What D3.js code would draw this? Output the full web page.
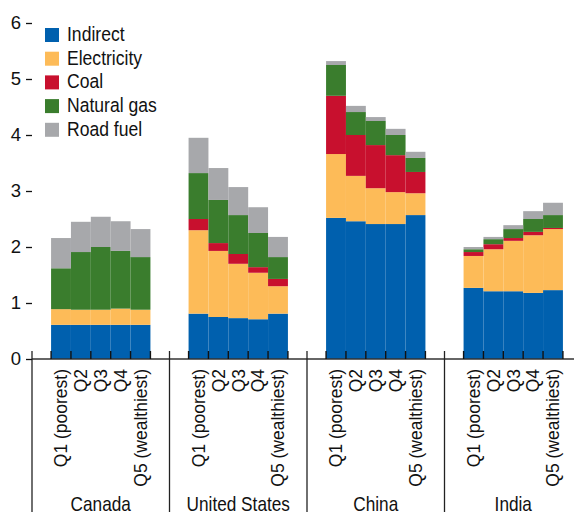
<!DOCTYPE html>
<html>
<head>
<meta charset="utf-8">
<script src="https://cdn.jsdelivr.net/npm/d3@7/dist/d3.min.js"></script>
<style>
  html, body { margin: 0; padding: 0; background: #fff; }
  svg { display: block; }
  text { font-family: "Liberation Sans", Arial, sans-serif; fill: #111; }
</style>
</head>
<body>
<svg id="chart" width="574" height="512"></svg>
<script>
// ---- data ----
const countries = ["Canada", "United States", "China", "India"];
const quintiles = ["Q1 (poorest)", "Q2", "Q3", "Q4", "Q5 (wealthiest)"];
const seriesNames = ["Indirect", "Electricity", "Coal", "Natural gas", "Road fuel"];
const seriesColors = ["#0060ae", "#fdbb58", "#c8102e", "#3a7d2d", "#a7a8ab"];
const yTicks = [0, 1, 2, 3, 4, 5, 6];

// values per series: [country][quintile]
const indirect = [
  [0.61, 0.61, 0.61, 0.61, 0.61],
  [0.81, 0.75, 0.73, 0.71, 0.81],
  [2.52, 2.46, 2.41, 2.41, 2.57],
  [1.27, 1.21, 1.21, 1.18, 1.23]
];
const electricity = [
  [0.28, 0.27, 0.27, 0.29, 0.27],
  [1.49, 1.18, 0.97, 0.83, 0.49],
  [1.14, 0.81, 0.64, 0.57, 0.39],
  [0.57, 0.75, 0.90, 1.03, 1.09]
];
const coal = [
  [0.00, 0.00, 0.00, 0.00, 0.00],
  [0.20, 0.14, 0.175, 0.10, 0.13],
  [1.04, 0.73, 0.77, 0.66, 0.38],
  [0.07, 0.09, 0.05, 0.06, 0.02]
];
const naturalGas = [
  [0.73, 1.03, 1.12, 1.03, 0.94],
  [0.82, 0.77, 0.695, 0.61, 0.39],
  [0.55, 0.41, 0.43, 0.36, 0.25],
  [0.05, 0.09, 0.16, 0.23, 0.23]
];
const roadFuel = [
  [0.54, 0.54, 0.54, 0.53, 0.50],
  [0.63, 0.57, 0.50, 0.46, 0.36],
  [0.07, 0.11, 0.07, 0.11, 0.11],
  [0.04, 0.04, 0.07, 0.14, 0.22]
];
const seriesValues = [indirect, electricity, coal, naturalGas, roadFuel];

// ---- build table ----
const rows = [];
countries.forEach((c, ci) => {
  quintiles.forEach((q, qi) => {
    const r = { country: c, quintile: q };
    seriesNames.forEach((s, si) => { r[s] = seriesValues[si][ci][qi]; });
    rows.push(r);
  });
});
const stacked = d3.stack().keys(seriesNames)(rows);

// ---- scales ----
const svg = d3.select("#chart");
const baseY = 359;
const x0 = d3.scaleBand().domain(countries).range([32, 582]).paddingInner(0).paddingOuter(0);
const x1 = d3.scaleBand().domain(quintiles).range([0, x0.bandwidth()]).paddingInner(0).paddingOuter(0.96);
const y = d3.scaleLinear().domain([0, 6]).range([baseY, 23]);
const color = d3.scaleOrdinal().domain(seriesNames).range(seriesColors);

// ---- bars ----
const layer = svg.append("g");
stacked.forEach(series => {
  layer.append("g")
    .attr("fill", color(series.key))
    .selectAll("rect")
    .data(series)
    .join("rect")
    .attr("x", d => x0(d.data.country) + x1(d.data.quintile))
    .attr("width", x1.bandwidth())
    .attr("y", d => y(d[1]))
    .attr("height", d => Math.max(0, y(d[0]) - y(d[1])));
});

// ---- baseline ----
svg.append("line")
  .attr("x1", 32).attr("x2", 574)
  .attr("y1", baseY).attr("y2", baseY)
  .attr("stroke", "#333").attr("stroke-width", 1.6);

// ---- bar edge ticks ----
countries.forEach(c => {
  const edges = quintiles.map(q => x0(c) + x1(q));
  edges.push(x0(c) + x1(quintiles[4]) + x1.bandwidth());
  svg.append("g").selectAll("line").data(edges).join("line")
    .attr("x1", d => d).attr("x2", d => d)
    .attr("y1", baseY - 8).attr("y2", baseY)
    .attr("stroke", "#111").attr("stroke-width", 1.4);
});

// ---- group separators ----
svg.append("g").selectAll("line").data(countries).join("line")
  .attr("x1", d => x0(d)).attr("x2", d => x0(d))
  .attr("y1", baseY - 8).attr("y2", 512)
  .attr("stroke", "#222").attr("stroke-width", 1.3);

// ---- y axis ----
const yAxis = d3.axisLeft(y).tickValues(yTicks).tickSize(6).tickPadding(5).tickFormat(d3.format("d"));
const yg = svg.append("g").attr("transform", "translate(32,0)").call(yAxis);
yg.select(".domain").remove();
yg.selectAll(".tick line").attr("stroke", "#111").attr("stroke-width", 1.3);
yg.selectAll(".tick text")
  .style("font-family", '"Liberation Sans", Arial, sans-serif')
  .style("font-size", "18.5px").attr("fill", "#111");

// ---- quintile labels ----
countries.forEach(c => {
  svg.append("g").selectAll("text").data(quintiles).join("text")
    .attr("transform", q => `translate(${x0(c) + x1(q) + x1.bandwidth() / 2},369) rotate(-90)`)
    .attr("text-anchor", "end")
    .attr("dy", "0.36em")
    .style("font-size", "17.5px")
    .text(q => q);
});

// ---- country labels ----
svg.append("g").selectAll("text").data(countries).join("text")
  .attr("transform", c => `translate(${x0(c) + x1(quintiles[2]) + x1.bandwidth() / 2},511) scale(0.82,1)`)
  .attr("text-anchor", "middle")
  .style("font-size", "21px")
  .text(c => c);

// ---- legend ----
const legend = svg.append("g");
seriesNames.forEach((s, i) => {
  const gy = 28 + i * 23.7;
  legend.append("rect").attr("x", 45).attr("y", gy).attr("width", 14).attr("height", 14).attr("fill", color(s));
  legend.append("text")
    .attr("transform", `translate(67,${gy + 13}) scale(0.9,1)`)
    .style("font-size", "19.5px")
    .text(s);
});
</script>
</body>
</html>
